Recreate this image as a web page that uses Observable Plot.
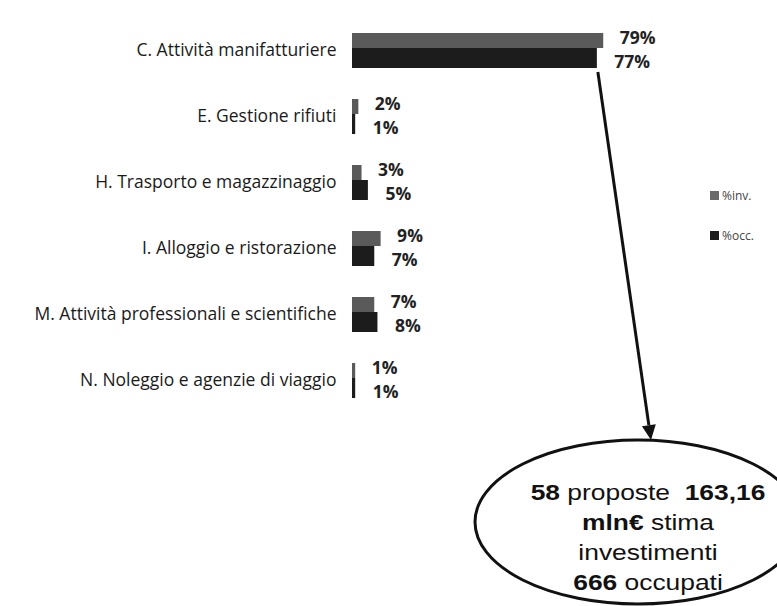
<!DOCTYPE html>
<html>
<head>
<meta charset="utf-8">
<script src="https://cdn.jsdelivr.net/npm/d3@7"></script>
<script src="https://cdn.jsdelivr.net/npm/@observablehq/plot@0.6"></script>
<style>
  html, body { margin: 0; padding: 0; background: #fff; }
  #chart svg { display: block; }
</style>
</head>
<body>
<div id="chart"></div>
<script>
// ---- data ----
const categories = [
  "C. Attività manifatturiere",
  "E. Gestione rifiuti",
  "H. Trasporto e magazzinaggio",
  "I. Alloggio e ristorazione",
  "M. Attività professionali e scientifiche",
  "N. Noleggio e agenzie di viaggio"
];
const invPct = [79, 2, 3, 9, 7, 1];
const occPct = [77, 1, 5, 7, 8, 1];
const seriesNames = ["%inv.", "%occ."];
const summaryLines = [
  [["58", true], [" proposte  ", false], ["163,16", true]],
  [["mln€", true], [" stima", false]],
  [["investimenti", false]],
  [["666", true], [" occupati", false]]
];

const rows = categories.map((c, i) => ({cat: c, inv: invPct[i], occ: occPct[i]}));
const colInv = "#5a5a5a", colOcc = "#1c1c1c";

const W = 777, H = 606;

// annotation: arrow + ellipse with summary text + legend
function annotation(index, scales) {
  const xs = scales.x, ys = scales.y;
  const g = d3.create("svg:g");
  const ecx = 638, ecy = 522, erx = 163, ery = 82;
  const x0 = xs(occPct[0]) + 1;
  const y0 = ys(categories[0]) + ys.bandwidth() - 11;
  const x1 = ecx + 13, y1 = ecy - ery;
  const ang = Math.atan2(y1 - y0, x1 - x0);
  const headL = 15, headW = 7;
  const bx = x1 - headL * Math.cos(ang), by = y1 - headL * Math.sin(ang);
  g.append("line").attr("x1", x0).attr("y1", y0).attr("x2", bx).attr("y2", by)
    .attr("stroke", "#111").attr("stroke-width", 3);
  const px = -Math.sin(ang), py = Math.cos(ang);
  g.append("path")
    .attr("d", `M${x1},${y1}L${bx + px * headW},${by + py * headW}L${bx - px * headW},${by - py * headW}Z`)
    .attr("fill", "#111");
  g.append("ellipse").attr("cx", ecx).attr("cy", ecy).attr("rx", erx).attr("ry", ery)
    .attr("fill", "#fff").attr("stroke", "#111").attr("stroke-width", 3);
  const tcx = 648;
  summaryLines.forEach((line, i) => {
    const t = g.append("text")
      .attr("transform", `translate(${tcx},${500 + i * 30}) scale(1.2,1)`)
      .attr("text-anchor", "middle")
      .attr("font-family", "'Liberation Sans', Arial, sans-serif")
      .attr("font-size", 22)
      .attr("fill", "#111");
    line.forEach(([s, b]) => {
      t.append("tspan").attr("font-weight", b ? "bold" : "normal")
        .attr("xml:space", "preserve").text(s);
    });
  });
  // legend
  const lg = g.append("g").attr("font-family", "'Open Sans', sans-serif")
    .attr("font-size", 12).attr("fill", "#444").attr("text-anchor", "start");
  const legendColors = ["#6a6a6a", colOcc];
  seriesNames.forEach((n, i) => {
    const yy = 196 + i * 40;
    lg.append("rect").attr("x", 710).attr("y", yy - 5).attr("width", 9).attr("height", 9).attr("fill", legendColors[i]);
    lg.append("text").attr("x", 722).attr("y", yy + 4).text(n);
  });
  return g.node();
}

const chart = Plot.plot({
  width: W,
  height: H,
  margin: 0,
  style: {background: "#fff"},
  x: {domain: [0, 100], range: [352, 670], axis: null},
  y: {domain: categories, range: [17, 413], padding: 0, axis: null},
  marks: [
    Plot.barX(rows, {y: "cat", x: "inv", fill: colInv, insetTop: 16, insetBottom: 35}),
    Plot.barX(rows, {y: "cat", x: "occ", fill: colOcc, insetTop: 31, insetBottom: 15}),
    Plot.text(rows, {
      y: "cat", x: 0, text: "cat", textAnchor: "end", dx: -16,
      fontSize: 17.5, fill: "#1a1a1a", fontFamily: "'Open Sans', sans-serif"
    }),
    Plot.text(rows, {
      y: "cat", x: "inv", text: d => d.inv + "%", textAnchor: "start", dx: 16, dy: -12,
      fontSize: 17.5, fontWeight: "bold", fill: "#222", fontFamily: "'Open Sans', sans-serif"
    }),
    Plot.text(rows, {
      y: "cat", x: "occ", text: d => d.occ + "%", textAnchor: "start", dx: 17, dy: 12,
      fontSize: 17.5, fontWeight: "bold", fill: "#222", fontFamily: "'Open Sans', sans-serif"
    }),
    annotation
  ]
});
document.getElementById("chart").appendChild(chart);
</script>
</body>
</html>
